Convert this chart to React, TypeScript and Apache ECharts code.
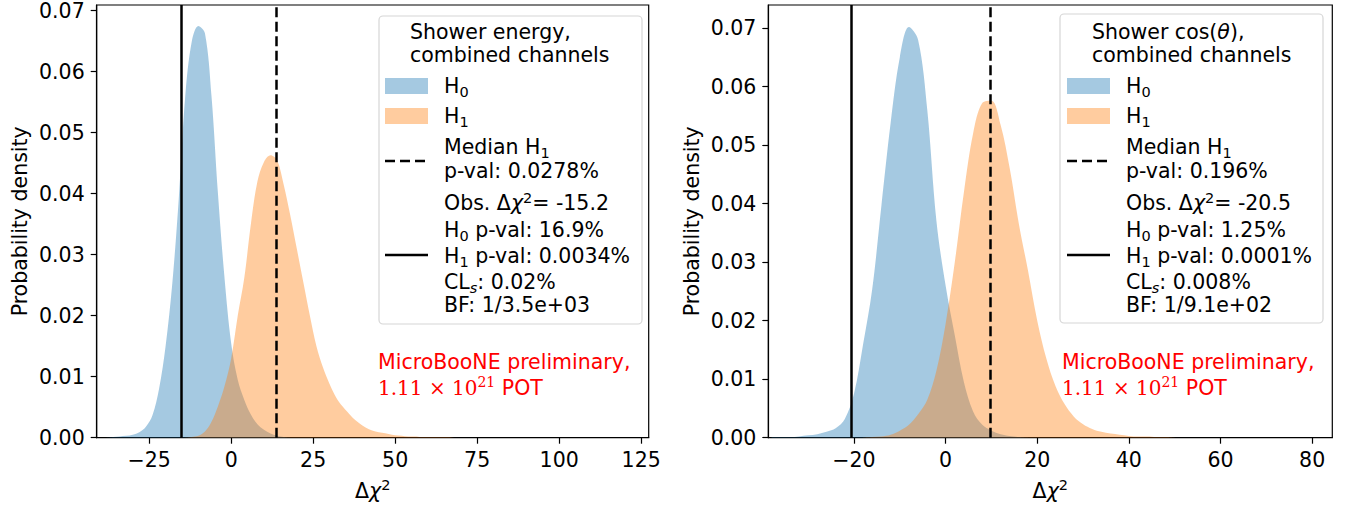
import React from "react";
import * as echarts from "echarts";

const FONT = "DejaVu Sans";
const BLUE = "#1f77b4";
const ORANGE = "#ff7f0e";

// histogram bin centres: start value, then one bin every binStep
const binStep = 2;

// left panel: shower energy
const energyH0Start = -38;
const energyH0 = [
  0.0, 0.0001, 0.0002, 0.0003, 0.0005, 0.0009, 0.0018, 0.0037, 0.008, 0.015,
  0.025, 0.039, 0.056, 0.065, 0.0675, 0.0663, 0.056, 0.0398, 0.026, 0.0155,
  0.0095, 0.0062, 0.0038, 0.0022, 0.0013, 0.0007, 0.0003, 0.0001, 0.0,
];
const energyH1Start = -14;
const energyH1 = [
  0.0, 0.0001, 0.0003, 0.001, 0.0026, 0.0052, 0.0085, 0.013, 0.02, 0.0262,
  0.035, 0.042, 0.0452, 0.0463, 0.0455, 0.0415, 0.0365, 0.031, 0.0255, 0.02,
  0.015, 0.0115, 0.0088, 0.0066, 0.0051, 0.0039, 0.0028, 0.002, 0.0014, 0.001,
  0.0008, 0.0006, 0.0004, 0.0003, 0.0002, 0.0002, 0.0001, 0.0001, 0.0001,
  0.0001, 0.0001, 0.0, 0.0,
];
const energyObs = -15.2;
const energyMedianH1 = 13.6;
const energyTicks = [-25, 0, 25, 50, 75, 100, 125];

// right panel: shower cos(theta)
const cosH0Start = -38;
const cosH0 = [
  0.0001, 0.0001, 0.0001, 0.0002, 0.0004, 0.0006, 0.001, 0.0016, 0.0032, 0.0075,
  0.016, 0.0255, 0.0398, 0.0538, 0.065, 0.0702, 0.068, 0.056, 0.037, 0.026,
  0.0175, 0.0095, 0.0045, 0.0022, 0.0012, 0.0006, 0.0003, 0.0001, 0.0,
];
const cosH1Start = -18;
const cosH1 = [
  0.0, 0.0001, 0.0002, 0.0005, 0.0012, 0.0022, 0.004, 0.0065, 0.0115, 0.0195,
  0.03, 0.042, 0.052, 0.0572, 0.0576, 0.0535, 0.046, 0.0365, 0.0285, 0.02,
  0.0135, 0.0088, 0.0057, 0.0036, 0.0023, 0.0015, 0.001, 0.0007, 0.0005, 0.0003,
  0.0002, 0.0002, 0.0001, 0.0001, 0.0,
];
const cosObs = -20.5;
const cosMedianH1 = 9.7;
const cosTicks = [-20, 0, 20, 40, 60, 80];

const densityTicks = [0, 0.01, 0.02, 0.03, 0.04, 0.05, 0.06, 0.07];

const energyLegend = [
  "Shower energy,",
  "combined channels",
  "p-val: 0.0278%",
  "-15.2",
  "16.9%",
  "0.0034%",
  "0.02%",
  "1/3.5e+03",
];
const cosLegend = [
  "Shower cos({i|θ}),",
  "combined channels",
  "p-val: 0.196%",
  "-20.5",
  "1.25%",
  "0.0001%",
  "0.008%",
  "1/9.1e+02",
];

const toPoints = (start: number, vals: number[]) =>
  vals.map((v, i) => [start + i * binStep, v]);

const fmtTick = (v: number) => (v < 0 ? "\u2212" + Math.abs(v) : String(v));

const RICH: any = {
  sub: { fontSize: 14.5, lineHeight: 16, verticalAlign: "bottom", fontFamily: FONT, fill: "#000" },
  subi: { fontSize: 14.5, lineHeight: 16, verticalAlign: "bottom", fontFamily: FONT, fontStyle: "italic", fill: "#000" },
  sup: { fontSize: 14.5, lineHeight: 16, verticalAlign: "top", fontFamily: FONT, fill: "#000" },
  i: { fontSize: 20.5, lineHeight: 26, fontFamily: FONT, fontStyle: "italic", fill: "#000" },
};

function txt(x: number, y: number, text: string, fill = "#000", rich: any = RICH) {
  return {
    type: "text",
    x,
    y,
    z: 100,
    style: {
      text,
      fill,
      fontSize: 20.5,
      fontFamily: FONT,
      lineHeight: 26,
      align: "left",
      verticalAlign: "middle",
      rich,
    },
  };
}

type Lay = { boxX: number; boxY: number; boxW: number; boxH: number; patchX: number; labelX: number; titleX: number; redX: number };

function panelGraphics(l: Lay, t: string[]) {
  const hx = l.patchX;
  const redRich = {
    m: { fontFamily: "DejaVu Serif", fontSize: 20, lineHeight: 26, fill: "#ff0000" },
    ms: { fontFamily: "DejaVu Serif", fontSize: 14, lineHeight: 16, verticalAlign: "top", fill: "#ff0000" },
  };
  return [
    {
      type: "rect",
      z: 90,
      shape: { x: l.boxX, y: l.boxY, width: l.boxW, height: l.boxH, r: 4 },
      style: { fill: "rgba(255,255,255,0.8)", stroke: "#d6d6d6", lineWidth: 1.2 },
    },
    txt(l.titleX, 32, t[0]),
    txt(l.titleX, 55, t[1]),
    { type: "rect", z: 100, shape: { x: hx, y: 78, width: 43, height: 16 }, style: { fill: BLUE, opacity: 0.4 } },
    txt(l.labelX, 86, "H{sub|0}"),
    { type: "rect", z: 100, shape: { x: hx, y: 108, width: 43, height: 16 }, style: { fill: ORANGE, opacity: 0.4 } },
    txt(l.labelX, 116, "H{sub|1}"),
    {
      type: "line",
      z: 100,
      shape: { x1: hx, y1: 161, x2: hx + 43, y2: 161 },
      style: { stroke: "#000", lineWidth: 2.5, lineDash: [10, 5] },
    },
    txt(l.labelX, 147, "Median H{sub|1}"),
    txt(l.labelX, 171, t[2]),
    {
      type: "line",
      z: 100,
      shape: { x1: hx, y1: 255, x2: hx + 43, y2: 255 },
      style: { stroke: "#000", lineWidth: 2.5 },
    },
    txt(l.labelX, 203, "Obs. Δ{i|χ}{sup|2}= " + t[3]),
    txt(l.labelX, 230, "H{sub|0} p-val: " + t[4]),
    txt(l.labelX, 256, "H{sub|1} p-val: " + t[5]),
    txt(l.labelX, 282, "CL{subi|s}: " + t[6]),
    txt(l.labelX, 305, "BF: " + t[7]),
    txt(l.redX, 362, "MicroBooNE preliminary,", "#ff0000"),
    txt(l.redX, 388, "{m|1.11 × 10}{ms|21} POT", "#ff0000", redRich),
  ];
}

const axisText = { color: "#000", fontSize: 20.5, fontFamily: FONT };

function xAxisFor(gridIndex: number, min: number, max: number, ticks: number[]) {
  return {
    type: "value",
    gridIndex,
    min,
    max,
    name: "Δ{i|χ}{sup|2}",
    nameLocation: "middle",
    nameGap: 40,
    nameTextStyle: {
      ...axisText,
      lineHeight: 26,
      rich: {
        i: { fontSize: 20.5, fontFamily: FONT, fontStyle: "italic", color: "#000", lineHeight: 26 },
        sup: { fontSize: 14.5, fontFamily: FONT, color: "#000", lineHeight: 16, verticalAlign: "top" },
      },
    },
    axisLine: { show: true, onZero: false, lineStyle: { color: "#000", width: 1.2 } },
    axisTick: { show: true, length: 6, lineStyle: { color: "#000", width: 1.2 }, customValues: ticks },
    axisLabel: { ...axisText, margin: 12, customValues: ticks, formatter: fmtTick },
    splitLine: { show: false },
  };
}

function yAxisFor(gridIndex: number, max: number) {
  return {
    type: "value",
    gridIndex,
    min: 0,
    max,
    name: "Probability density",
    nameLocation: "middle",
    nameGap: 66,
    nameTextStyle: axisText,
    axisLine: { show: true, onZero: false, lineStyle: { color: "#000", width: 1.2 } },
    axisTick: { show: true, length: 6, lineStyle: { color: "#000", width: 1.2 }, customValues: densityTicks },
    axisLabel: { ...axisText, margin: 12, customValues: densityTicks, formatter: (v: number) => v.toFixed(2) },
    splitLine: { show: false },
  };
}

function hist(idx: number, color: string, data: number[][], lines?: { obs: number; median: number }) {
  const s: any = {
    type: "line",
    xAxisIndex: idx,
    yAxisIndex: idx,
    data,
    smooth: 0.35,
    showSymbol: false,
    symbol: "none",
    lineStyle: { width: 0 },
    areaStyle: { color, opacity: 0.4 },
    silent: true,
  };
  if (lines) {
    s.markLine = {
      silent: true,
      symbol: ["none", "none"],
      label: { show: false },
      lineStyle: { color: "#000", width: 2.5 },
      data: [
        { xAxis: lines.obs, lineStyle: { type: "solid", color: "#000", width: 2.5 } },
        { xAxis: lines.median, lineStyle: { type: [10, 4.5], color: "#000", width: 2.5 } },
      ],
    };
  }
  return s;
}

export default function App() {
  const ref = React.useRef<HTMLDivElement>(null);

  React.useEffect(() => {
    document.body.style.margin = "0";
    if (!ref.current) return;
    const chart = echarts.init(ref.current, null, { renderer: "svg" });

    const option: any = {
      animation: false,
      backgroundColor: "#fff",
      grid: [
        { left: 96.7, top: 5, width: 552, height: 432.7, show: true, borderColor: "#000", borderWidth: 1.2, backgroundColor: "transparent" },
        { left: 768.3, top: 5, width: 564, height: 432.7, show: true, borderColor: "#000", borderWidth: 1.2, backgroundColor: "transparent" },
      ],
      xAxis: [xAxisFor(0, -41.0, 127.3, energyTicks), xAxisFor(1, -38.7, 84.4, cosTicks)],
      yAxis: [yAxisFor(0, 0.07093), yAxisFor(1, 0.07397)],
      series: [
        hist(0, BLUE, toPoints(energyH0Start, energyH0)),
        hist(0, ORANGE, toPoints(energyH1Start, energyH1), { obs: energyObs, median: energyMedianH1 }),
        hist(1, BLUE, toPoints(cosH0Start, cosH0)),
        hist(1, ORANGE, toPoints(cosH1Start, cosH1), { obs: cosObs, median: cosMedianH1 }),
      ],
      graphic: [
        ...panelGraphics(
          { boxX: 379, boxY: 16, boxW: 263, boxH: 308, patchX: 385, labelX: 444, titleX: 410, redX: 378 },
          energyLegend
        ),
        ...panelGraphics(
          { boxX: 1060, boxY: 14, boxW: 263, boxH: 309, patchX: 1067, labelX: 1126, titleX: 1092, redX: 1062 },
          cosLegend
        ),
      ],
    };

    chart.setOption(option);
    return () => chart.dispose();
  }, []);

  return <div ref={ref} style={{ width: 1354, height: 512 }} />;
}
